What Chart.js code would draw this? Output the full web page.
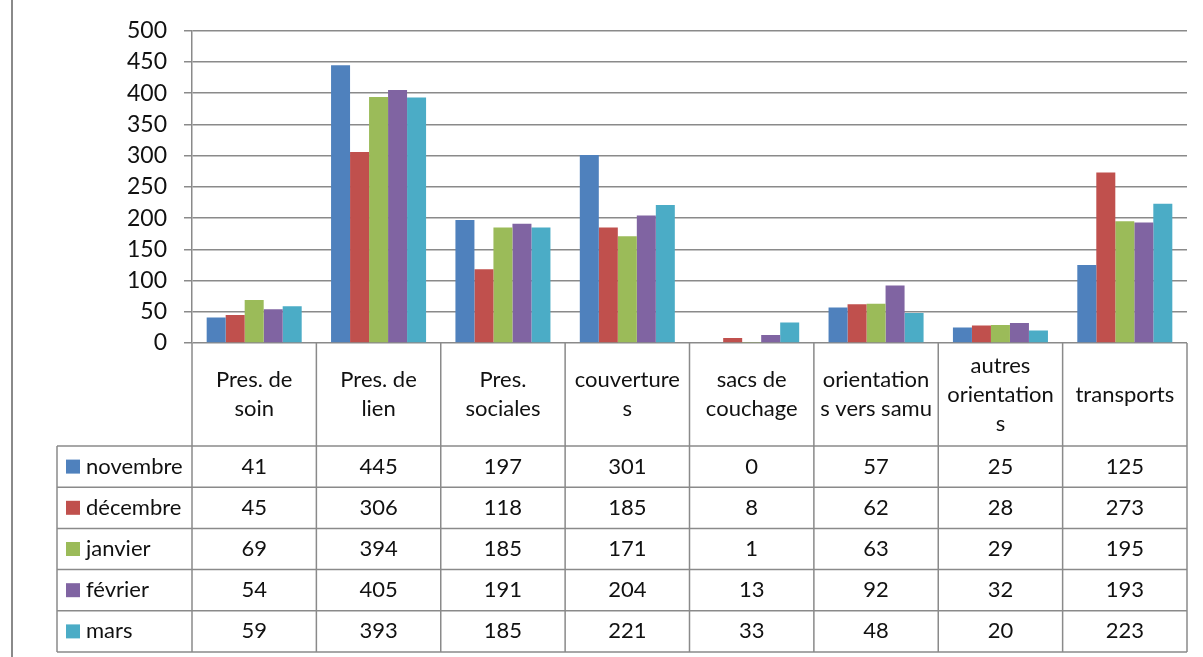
<!DOCTYPE html>
<html>
<head>
<meta charset="utf-8">
<script src="https://cdn.jsdelivr.net/npm/chart.js@4/dist/chart.umd.min.js"></script>
<style>
  html, body { margin: 0; padding: 0; background: #fff; }
  #wrap { width: 1203px; height: 657px; position: relative; }
</style>
</head>
<body>
<div id="wrap"><canvas id="chart" width="1203" height="657"></canvas></div>
<script>
// categories (header lines as they wrap in the table)
const categories = [
  ['Pres. de', 'soin'],
  ['Pres. de', 'lien'],
  ['Pres.', 'sociales'],
  ['couverture', 's'],
  ['sacs de', 'couchage'],
  ['orientation', 's vers samu'],
  ['autres', 'orientation', 's'],
  ['transports']
];
const months = ['novembre', 'décembre', 'janvier', 'février', 'mars'];
const novembre = [41, 445, 197, 301, 0, 57, 25, 125];
const decembre = [45, 306, 118, 185, 8, 62, 28, 273];
const janvier = [69, 394, 185, 171, 1, 63, 29, 195];
const fevrier = [54, 405, 191, 204, 13, 92, 32, 193];
const mars = [59, 393, 185, 221, 33, 48, 20, 223];
const yTicks = [0, 50, 100, 150, 200, 250, 300, 350, 400, 450, 500];

const colors = ['#4F81BD', '#C0504D', '#9BBB59', '#8064A2', '#4BACC6'];
const series = [novembre, decembre, janvier, fevrier, mars];
const FONT = 'Lato, "Open Sans", sans-serif';
const lineCol = '#8a8a8a';

// draws the Excel-like data table under the plot, aligned on the x scale
const dataTable = {
  id: 'dataTable',
  afterDraw(chart) {
    const ctx = chart.ctx;
    const area = chart.chartArea;
    const xs = chart.scales.x;
    const n = categories.length;
    const colW = (area.right - area.left) / n;
    const top = area.bottom;
    const headH = 103;
    const rowH = 41.2;
    const legLeft = 57;
    const bottom = top + headH + rowH * months.length;

    ctx.save();
    // outer frame line at the left
    ctx.strokeStyle = lineCol;
    ctx.lineWidth = 2;
    ctx.beginPath();
    ctx.moveTo(12, 0);
    ctx.lineTo(12, chart.height);
    ctx.stroke();

    ctx.lineWidth = 1.5;
    ctx.beginPath();
    // horizontal lines
    for (let r = 0; r <= months.length; r++) {
      const y = top + headH + r * rowH;
      ctx.moveTo(legLeft, y);
      ctx.lineTo(area.right, y);
    }
    // vertical lines
    ctx.moveTo(legLeft, top + headH);
    ctx.lineTo(legLeft, bottom);
    for (let i = 0; i <= n; i++) {
      const x = area.left + i * colW;
      ctx.moveTo(x, top);
      ctx.lineTo(x, bottom);
    }
    ctx.stroke();

    ctx.fillStyle = '#111';
    ctx.font = '22px ' + FONT;
    ctx.textAlign = 'center';
    ctx.textBaseline = 'middle';
    // header
    categories.forEach((lines, i) => {
      const cx = xs.getPixelForValue(i);
      const lh = 29;
      const y0 = top + headH / 2 - (lines.length - 1) * lh / 2;
      lines.forEach((t, k) => ctx.fillText(t, cx, y0 + k * lh));
    });
    // rows
    months.forEach((m, r) => {
      const cy = top + headH + r * rowH + rowH / 2;
      ctx.fillStyle = colors[r];
      ctx.fillRect(66, cy - 7, 14, 14);
      ctx.fillStyle = '#111';
      ctx.textAlign = 'left';
      ctx.fillText(m, 86, cy);
      ctx.textAlign = 'center';
      series[r].forEach((v, i) => {
        ctx.fillText(String(v), xs.getPixelForValue(i), cy);
      });
    });
    ctx.restore();
  }
};

new Chart(document.getElementById('chart'), {
  type: 'bar',
  data: {
    labels: categories,
    datasets: months.map((m, r) => ({
      label: m,
      data: series[r],
      backgroundColor: colors[r],
      borderWidth: 0,
      barPercentage: 1,
      categoryPercentage: 0.764
    }))
  },
  options: {
    responsive: false,
    animation: false,
    layout: { padding: { top: 28, right: 16, bottom: 314, left: 0 } },
    plugins: {
      legend: { display: false },
      tooltip: { enabled: false }
    },
    scales: {
      x: {
        display: false,
        grid: { display: false }
      },
      y: {
        min: 0,
        max: 500,
        afterBuildTicks: (s) => { s.ticks = yTicks.map(v => ({ value: v })); },
        afterFit: (s) => { s.width = 192; },
        ticks: {
          color: '#111',
          font: { family: FONT, size: 23 },
          padding: 17
        },
        grid: { color: lineCol, lineWidth: 1.5, tickLength: 8 },
        border: { color: lineCol, width: 1.5 }
      }
    }
  },
  plugins: [dataTable]
});
</script>
</body>
</html>
